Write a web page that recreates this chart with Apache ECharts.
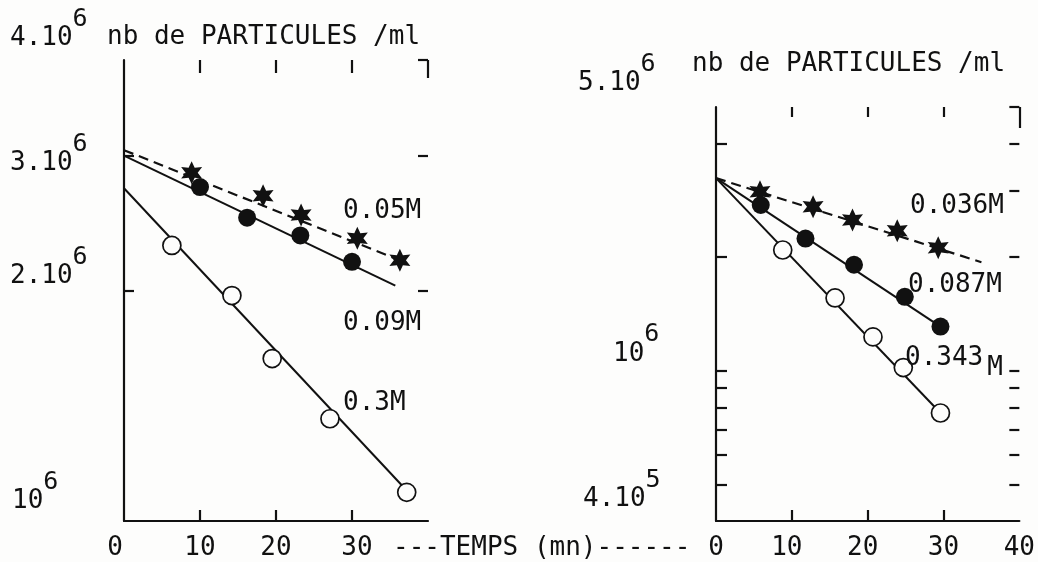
<!DOCTYPE html>
<html><head><meta charset="utf-8">
<script src="https://cdn.jsdelivr.net/npm/echarts@6/dist/echarts.min.js"></script>
<style>html,body{margin:0;padding:0;background:#fdfdfc}#c{width:1038px;height:562px}</style>
</head><body><div id="c"></div>
<script>
// ================= DATA =================
const xTickValues = [10, 20, 30];
const xLabelsLeft = [0, 10, 20, 30];
const xLabelsRight = [0, 10, 20, 30, 40];

// left panel (time in mn, particles / ml)
const leftT05 = [8.9, 18.3, 23.3, 30.7, 36.3];
const leftV05 = [2.85e6, 2.66e6, 2.51e6, 2.34e6, 2.19e6];
const leftT09 = [10.0, 16.2, 23.2, 30.0];
const leftV09 = [2.73e6, 2.49e6, 2.36e6, 2.18e6];
const leftT3 = [6.3, 14.2, 19.5, 27.1, 37.2];
const leftV3 = [2.29e6, 1.97e6, 1.63e6, 1.36e6, 1.09e6];
const leftFit05 = [[0, 3.05e6], [36.3, 2.19e6]];
const leftFit09 = [[0, 3.0e6], [35.7, 2.03e6]];
const leftFit3 = [[0, 2.72e6], [38.0, 1.075e6]];

// right panel
const rightT036 = [5.8, 12.8, 18.0, 23.9, 29.3];
const rightV036 = [2.98e6, 2.72e6, 2.51e6, 2.35e6, 2.12e6];
const rightT087 = [5.9, 11.8, 18.2, 24.9, 29.6];
const rightV087 = [2.75e6, 2.24e6, 1.91e6, 1.57e6, 1.31e6];
const rightT343 = [8.8, 15.7, 20.7, 24.7, 29.6];
const rightV343 = [2.09e6, 1.56e6, 1.23e6, 1.02e6, 7.73e5];
const rightFit036 = [[0, 3.24e6], [35.0, 1.94e6]];
const rightFit087 = [[0, 3.24e6], [29.6, 1.31e6]];
const rightFit343 = [[0, 3.24e6], [29.6, 7.73e5]];

const leftYRange = [1e6, 4e6];
const rightYRange = [4e5, 5e6];
const leftYTicksLeft = [2e6, 3e6];
const leftYTicksRight = [2e6, 3e6, 4e6];
const rightYTicksLeft = [5e5, 6e5, 7e5, 8e5, 9e5, 1e6, 2e6, 4e6];
const rightYTicksRight = [5e5, 6e5, 7e5, 8e5, 9e5, 1e6, 2e6, 3e6, 4e6, 5e6];

const leftYLabelValues = [4e6, 3e6, 2e6, 1e6];
const leftYLabelBase = ['4.10', '3.10', '2.10', '10'];
const leftYLabelExp = ['6', '6', '6', '6'];
const rightYLabelValues = [5e6, 1e6, 4e5];
const rightYLabelBase = ['5.10', '10', '4.10'];
const rightYLabelExp = ['6', '6', '5'];

const yTitle = 'nb de PARTICULES /ml';
const xTitle = '---TEMPS (mn)------';
const leftNames = ['0.05M', '0.09M', '0.3M'];
const rightNames = ['0.036M', '0.087M', '0.343', 'M'];

// ================= LAYOUT / STYLE =================
const INK = '#111111';
const PAPER = '#fdfdfc';
const FONT = '"DejaVu Sans Mono", "Liberation Mono", monospace';
const FS = 26, FSE = 25, CW = FS * 0.602;
const STAR = 'path://M100 0L125 56.7L186.6 50L150 100L186.6 150L125 143.3L100 200L75 143.3L13.4 150L50 100L13.4 50L75 56.7Z';
const leftYLabelX = [10, 10, 10, 12], leftYLabelDy = [-13, 17, -5, -11];
const rightYLabelX = [578, 613, 583], rightYLabelDy = [-15, -8, -13];
const EXP_RAISE = 19, MID = 9; // baseline -> middle
const xShiftLeft = {0: -9, 30: 5}, xShiftRight = {10: -5, 20: -5};

const richBase = {fontFamily: FONT, fontSize: FS, color: INK};
const rich = {
  l9: Object.assign({padding: [0, 18, 0, 0]}, richBase),
  l5: Object.assign({padding: [0, 10, 0, 0]}, richBase),
  r5: Object.assign({padding: [0, 0, 0, 10]}, richBase)
};
function xFmt(shift) {
  return function (v) {
    const s = shift[v];
    if (!s) return String(v);
    return (s < 0 ? '{l' + (-s) : '{r' + s) + '|' + v + '}';
  };
}
const pts = (ts, vs) => ts.map((t, i) => [t, vs[i]]);

function xBottom(grid, labels, shift) {
  return {
    type: 'value', gridIndex: grid, position: 'bottom', min: 0, max: 40,
    axisLine: {show: true, onZero: false, lineStyle: {color: INK, width: 2.2}},
    axisTick: {show: true, inside: true, length: 11, customValues: xTickValues, lineStyle: {color: INK, width: 2.2}},
    axisLabel: {show: true, customValues: labels, margin: 14, color: INK, fontFamily: FONT, fontSize: FS,
      formatter: xFmt(shift), rich: rich},
    splitLine: {show: false}
  };
}
function xTop(grid, ticks, len) {
  return {
    type: 'value', gridIndex: grid, position: 'top', min: 0, max: 40,
    axisLine: {show: false, onZero: false},
    axisTick: {show: true, inside: true, length: len, customValues: ticks, lineStyle: {color: INK, width: 2.2}},
    axisLabel: {show: false}, splitLine: {show: false}
  };
}
function yAx(grid, pos, range, ticks, line, len) {
  return {
    type: 'log', logBase: 10, gridIndex: grid, position: pos, min: range[0], max: range[1],
    axisLine: {show: line, onZero: false, lineStyle: {color: INK, width: 2.2}},
    axisTick: {show: true, inside: true, length: len, customValues: ticks, lineStyle: {color: INK, width: 2.2}},
    axisLabel: {show: false}, splitLine: {show: false}
  };
}
function fit(xi, yi, data, dashed) {
  return {type: 'line', xAxisIndex: xi, yAxisIndex: yi, data: data, symbol: 'none', z: 2,
    lineStyle: {color: INK, width: dashed ? 2.2 : 2, opacity: 1, type: dashed ? [10, 6] : 'solid'}};
}
function pointsSeries(xi, yi, data, kind) {
  const s = {type: 'scatter', xAxisIndex: xi, yAxisIndex: yi, data: data, z: 5};
  if (kind === 'star') { s.symbol = STAR; s.symbolSize = [21, 23]; s.itemStyle = {color: INK, opacity: 1}; }
  else if (kind === 'dot') { s.symbol = 'circle'; s.symbolSize = 18; s.itemStyle = {color: INK, opacity: 1}; }
  else { s.symbol = 'circle'; s.symbolSize = 18; s.itemStyle = {color: PAPER, borderColor: INK, borderWidth: 1.7, opacity: 1}; }
  return s;
}

const option = {
  animation: false,
  backgroundColor: PAPER,
  grid: [
    {left: 124, top: 60, width: 304, height: 461},
    {left: 716, top: 107, width: 304, height: 414}
  ],
  xAxis: [
    xBottom(0, xLabelsLeft, xShiftLeft),
    xTop(0, xTickValues, 13),
    xTop(0, [40], 18),
    xBottom(1, xLabelsRight, xShiftRight),
    xTop(1, xTickValues, 10),
    xTop(1, [40], 21)
  ],
  yAxis: [
    yAx(0, 'left', leftYRange, leftYTicksLeft, true, 10),
    yAx(0, 'right', leftYRange, leftYTicksRight, false, 10),
    yAx(1, 'left', rightYRange, rightYTicksLeft, true, 11),
    yAx(1, 'right', rightYRange, rightYTicksRight, false, 10)
  ],
  series: [
    fit(0, 0, leftFit05, true),
    fit(0, 0, leftFit09, false),
    fit(0, 0, leftFit3, false),
    pointsSeries(0, 0, pts(leftT05, leftV05), 'star'),
    pointsSeries(0, 0, pts(leftT09, leftV09), 'dot'),
    pointsSeries(0, 0, pts(leftT3, leftV3), 'open'),
    fit(3, 2, rightFit036, true),
    fit(3, 2, rightFit087, false),
    fit(3, 2, rightFit343, false),
    pointsSeries(3, 2, pts(rightT036, rightV036), 'star'),
    pointsSeries(3, 2, pts(rightT087, rightV087), 'dot'),
    pointsSeries(3, 2, pts(rightT343, rightV343), 'open')
  ]
};

const chart = echarts.init(document.getElementById('c'));
chart.setOption(option);

function txt(x, y, s, size) {
  return {type: 'text', x: x, y: y, z: 10, silent: true,
    style: {text: s, fill: INK, font: (size || FS) + 'px ' + FONT,
      align: 'left', verticalAlign: 'middle', textAlign: 'left', textVerticalAlign: 'middle'}};
}
const g = [];
function yLabels(axisIdx, values, bases, exps, xs, dys) {
  values.forEach(function (v, i) {
    const py = chart.convertToPixel({yAxisIndex: axisIdx}, v);
    const base = py + dys[i];
    g.push(txt(xs[i], base - MID, bases[i]));
    g.push(txt(xs[i] + bases[i].length * CW, base - MID - EXP_RAISE, exps[i], FSE));
  });
}
yLabels(0, leftYLabelValues, leftYLabelBase, leftYLabelExp, leftYLabelX, leftYLabelDy);
yLabels(2, rightYLabelValues, rightYLabelBase, rightYLabelExp, rightYLabelX, rightYLabelDy);

g.push(txt(107, 46 - MID, yTitle));
g.push(txt(692, 73 - MID, yTitle));
g.push(txt(393, 557 - MID, xTitle));
g.push(txt(343, 220 - MID, leftNames[0]));
g.push(txt(343, 332 - MID, leftNames[1]));
g.push(txt(343, 412 - MID, leftNames[2]));
g.push(txt(910, 215 - MID, rightNames[0]));
g.push(txt(908, 294 - MID, rightNames[1]));
g.push(txt(905, 367 - MID, rightNames[2]));
g.push(txt(905 + 5 * CW + 4, 377 - MID, rightNames[3]));

chart.setOption({graphic: {elements: g}});
</script>
</body></html>
